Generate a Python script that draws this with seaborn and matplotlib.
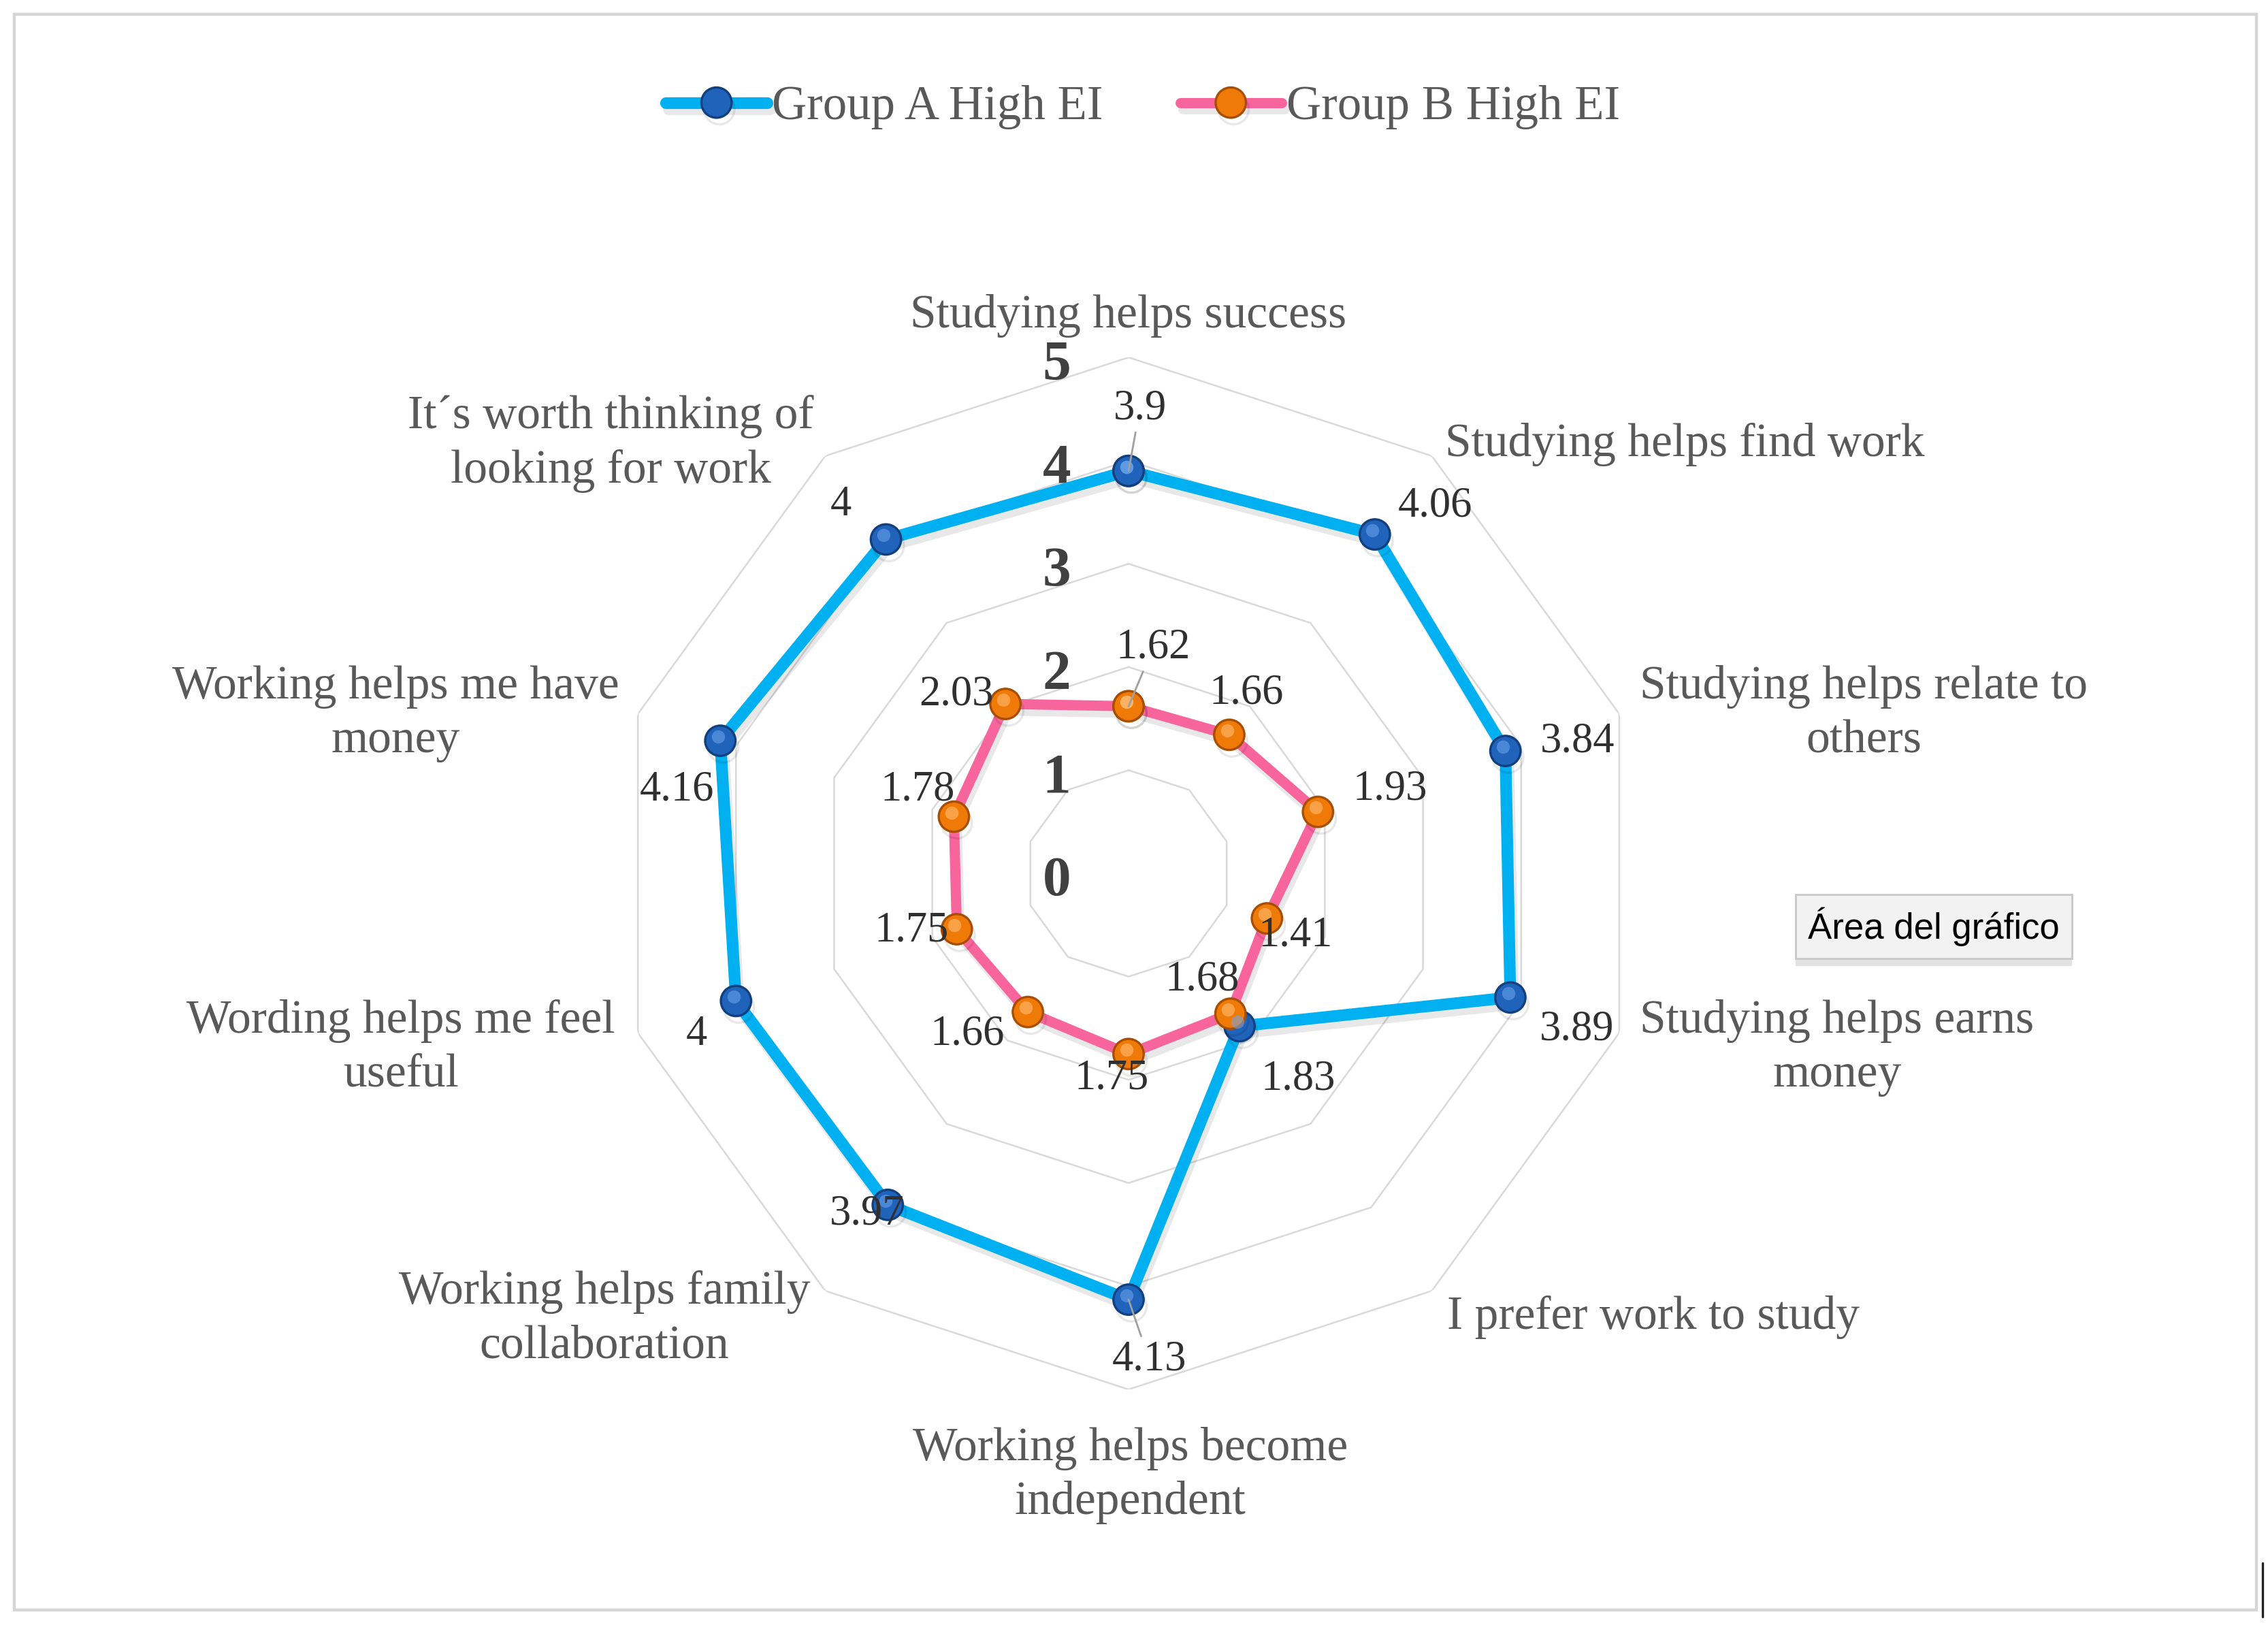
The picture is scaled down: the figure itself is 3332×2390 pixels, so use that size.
import numpy as np
import pandas as pd
import matplotlib
matplotlib.use("Agg")
import matplotlib.pyplot as plt
import matplotlib.patheffects as pe
import matplotlib.transforms as mtransforms
from matplotlib.patches import Rectangle
from matplotlib.lines import Line2D
import seaborn as sns

# dados do gráfico
categories = [
    "Studying helps success",
    "Studying helps find work",
    "Studying helps relate to\nothers",
    "Studying helps earns\nmoney",
    "I prefer work to study",
    "Working helps become\nindependent",
    "Working helps family\ncollaboration",
    "Wording helps me feel\nuseful",
    "Working helps me have\nmoney",
    "It´s worth thinking of\nlooking for work",
]
group_a = [3.9, 4.06, 3.84, 3.89, 1.83, 4.13, 3.97, 4, 4.16, 4]
group_b = [1.62, 1.66, 1.93, 1.41, 1.68, 1.75, 1.66, 1.75, 1.78, 2.03]
series_names = ["Group A High EI", "Group B High EI"]
rings = [0, 1, 2, 3, 4, 5]

# posições dos rótulos (pontos)
off_a = [(6, 33), (32, 15), (38, 5), (35, -17), (31, -28),
         (11, -32), (-11, -5), (-21, -18), (-23, -26), (-24, 18)]
off_b = [(13, 31), (9, 22), (38, 12), (15, -9), (-15, 18),
         (-9, -13), (-32, -12), (-24, -1), (-19, 14), (-26, 5)]
leader_a = [0, 5]
leader_b = [0]
cat_off = [(0, 22), (7, 6), (11, 0), (11, -8), (8, -14),
           (1, -45.5), (-8, -15), (-12, -8), (-10, 0), (-6, 6.5)]

sns.set_theme(style="white")
plt.rcParams["font.family"] = ["Liberation Serif", "DejaVu Serif"]

n = len(categories)
theta = np.linspace(0, 2 * np.pi, n, endpoint=False)
theta_closed = np.append(theta, 2 * np.pi)

df = pd.DataFrame({
    "theta": np.concatenate([theta_closed, theta_closed]),
    "value": group_a + group_a[:1] + group_b + group_b[:1],
    "group": [series_names[0]] * (n + 1) + [series_names[1]] * (n + 1),
})

W, H = 3332, 2390
fig = plt.figure(figsize=(W / 200, H / 200), dpi=200)
fig.patch.set_facecolor("white")

# moldura do gráfico
fig.add_artist(Rectangle((21 / W, 1 - 2365 / H), (3315 - 21) / W, (2365 - 21) / H,
                         transform=fig.transFigure, fill=False,
                         edgecolor="#D6D6D6", lw=1.6, zorder=0))
fig.add_artist(Line2D([3324 / W, 3324 / W], [1 - 2375 / H, 1 - 2296 / H],
                      transform=fig.transFigure, color="#222222", lw=1.2))

cx, cy, R = 1658, 1283, 758
ax = fig.add_axes([(cx - R) / W, (H - cy - R) / H, 2 * R / W, 2 * R / H],
                  projection="polar")
ax.set_theta_zero_location("N")
ax.set_theta_direction(-1)
ax.set_ylim(0, 5)
ax.set_xticks([])
ax.set_yticks([])
ax.grid(False)
ax.spines["polar"].set_visible(False)
ax.patch.set_alpha(0)

# grade poligonal
for r in rings[1:]:
    ax.plot(theta_closed, [r] * (n + 1), color="#D9D9D9", lw=0.9, zorder=1)
for r in rings:
    ax.annotate(str(r), xy=(0, r), xytext=(-38, -4.5), textcoords="offset points",
                ha="center", va="center", fontsize=30, fontweight="bold",
                color="#404040", zorder=2)

shadow = [pe.SimpleLineShadow(offset=(1.5, -3.5), shadow_color="black", alpha=0.09),
          pe.Normal()]
styles = {
    series_names[0]: dict(color="#00B0F0", lw=6.2, mfc="#1F63BA", mec="#123F7E", hl="#6FA8F0"),
    series_names[1]: dict(color="#F8649C", lw=5.4, mfc="#F07A08", mec="#A84E00", hl="#FFC27A"),
}
# brilho dos marcadores (deslocado para cima)
hl_trans = mtransforms.offset_copy(ax.transData, fig=fig, x=-1.2, y=2.2, units="points")
handles = []
for name in series_names:
    st = styles[name]
    sub = df[df["group"] == name]
    sns.lineplot(data=sub, x="theta", y="value", ax=ax, sort=False, color=st["color"],
                 linewidth=st["lw"], marker="o", markersize=16,
                 markerfacecolor=st["mfc"], markeredgecolor=st["mec"],
                 markeredgewidth=1.2, zorder=3, legend=False)
    line = ax.lines[-1]
    line.set_path_effects(shadow)
    handles.append(line)
    ax.plot(sub["theta"], sub["value"], linestyle="none", marker="o", markersize=7,
            markerfacecolor=st["hl"], markeredgewidth=0, alpha=0.55, zorder=4,
            transform=hl_trans)
ax.set_xlabel("")
ax.set_ylabel("")
ax.set_ylim(0, 5)

# rótulos dos dados
for vals, offs, leaders in [(group_a, off_a, leader_a), (group_b, off_b, leader_b)]:
    for i, v in enumerate(vals):
        arrow = dict(arrowstyle="-", color="#A0A0A0", lw=1.0, shrinkA=0, shrinkB=0) \
            if i in leaders else None
        ax.annotate(f"{v:g}", xy=(theta[i], v), xytext=offs[i], textcoords="offset points",
                    ha="center", va="center", fontsize=22.5, color="#303030",
                    arrowprops=arrow, zorder=5)

# rótulos das categorias
for i, cat in enumerate(categories):
    s = np.sin(theta[i])
    ha = "center" if abs(s) < 0.1 else ("left" if s > 0 else "right")
    ax.annotate(cat, xy=(theta[i], 5), xytext=cat_off[i], textcoords="offset points",
                ha=ha, va="center", multialignment="center", fontsize=25,
                color="#595959", annotation_clip=False, linespacing=1.32)

fig.legend(handles=handles, labels=series_names, loc="center",
           bbox_to_anchor=(1679 / W, 1 - 158 / H), ncol=2, frameon=False,
           fontsize=25.5, handlelength=2.1, handletextpad=0.1, columnspacing=1.6,
           numpoints=1, labelcolor="#595959")

tip = fig.text(2841 / W, 1 - 1361 / H, "Área del gráfico", ha="center", va="center",
               fontsize=19, color="black", family=["Liberation Sans", "DejaVu Sans"],
               bbox=dict(boxstyle="square,pad=0.35", fc="#F2F2F2", ec="#C8C8C8", lw=1))
tip.get_bbox_patch().set_path_effects([pe.withSimplePatchShadow(offset=(0, -4), alpha=0.15)])

plt.savefig("out.png", dpi=200)
